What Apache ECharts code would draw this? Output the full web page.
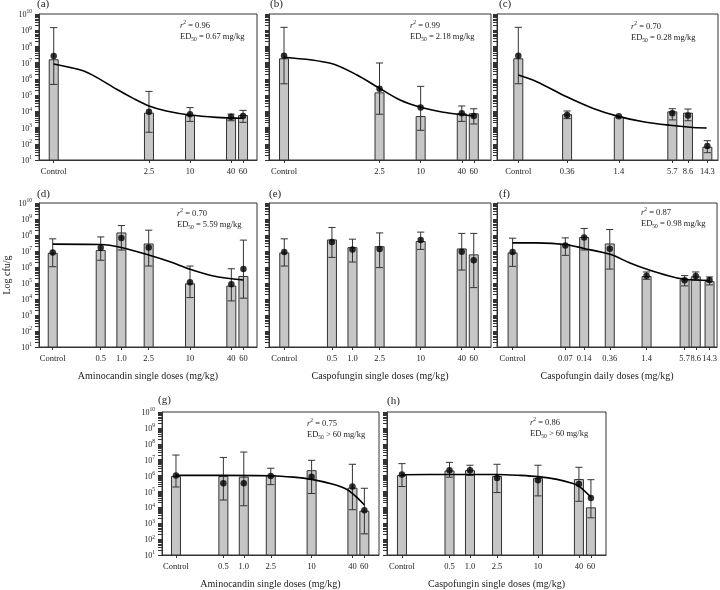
<!DOCTYPE html>
<html><head><meta charset="utf-8">
<script src="https://cdn.jsdelivr.net/npm/echarts@6/dist/echarts.min.js"></script>
<style>html,body{margin:0;padding:0;background:#fff}#c{width:720px;height:590px}</style>
</head><body><div id="c"></div>
<script>
// ===== DATA (y values are log10 cfu/g) =====
const dosesA = ['Control','2.5','10','40','60'];
const barsA  = [7.21, 3.92, 3.77, 3.57, 3.77];
const meansA = [7.41, 3.98, 3.82, 3.67, 3.71];
const errLoA = [5.66, 2.71, 3.38, 3.42, 3.32];
const errHiA = [9.16, 5.23, 4.23, 3.83, 4.06];
const curveAx = [0.1, 0.27, 0.48, 0.84, 1.47, 2.5, 4.5, 10, 24.5, 60];
const curveAy = [6.92, 6.50, 5.97, 5.36, 4.80, 4.33, 4.02, 3.77, 3.63, 3.57];

const dosesB = ['Control','2.5','10','40','60'];
const barsB  = [7.27, 5.17, 3.71, 3.88, 3.88];
const meansB = [7.43, 5.39, 4.23, 3.88, 3.71];
const errLoB = [5.70, 3.82, 2.83, 3.38, 3.22];
const errHiB = [9.18, 6.98, 5.54, 4.33, 4.16];
const curveBx = [0.1, 0.48, 1.17, 2.57, 5.0, 10, 21.4, 40, 60];
const curveBy = [7.33, 6.96, 6.24, 5.39, 4.70, 4.25, 3.94, 3.80, 3.71];

const dosesC = ['Control','0.36','1.4','5.7','8.6','14.3'];
const barsC  = [7.27, 3.82, 3.67, 4.00, 3.92, 1.82];
const meansC = [7.43, 3.77, 3.69, 3.88, 3.75, 1.86];
const errLoC = [5.70, 3.55, null, 3.47, 3.42, 1.45];
const errHiC = [9.18, 4.02, null, 4.16, 4.14, 2.19];
const curveCx = [0.1, 0.162, 0.356, 0.716, 1.38, 2.66, 5.37, 9.08, 14.06];
const curveCy = [6.24, 5.83, 4.90, 4.18, 3.69, 3.36, 3.14, 3.02, 2.97];

const dosesD = ['Control','0.5','1.0','2.5','10','40','60'];
const barsD  = [6.89, 7.06, 8.16, 7.47, 4.98, 4.84, 5.44];
const meansD = [6.91, 7.20, 7.82, 7.22, 5.05, 4.92, 5.87];
const errLoD = [6.02, 6.42, 7.06, 6.06, 4.09, 3.88, 4.05];
const errHiD = [7.76, 7.88, 8.59, 8.30, 6.06, 5.89, 7.68];
const curveDx = [0.1, 0.5, 1, 2.5, 5.1, 10, 21.9, 60];
const curveDy = [7.43, 7.41, 7.22, 6.75, 6.33, 5.86, 5.44, 5.19];

const dosesE = ['Control','0.5','1.0','2.5','10','40','60'];
const barsE  = [6.91, 7.72, 7.24, 7.30, 7.62, 7.16, 6.79];
const meansE = [6.93, 7.57, 7.10, 7.12, 7.68, 6.95, 6.42];
const errLoE = [6.06, 6.60, 6.31, 5.96, 7.10, 5.81, 4.71];
const errHiE = [7.76, 8.47, 7.74, 8.13, 8.18, 8.10, 8.10];

const dosesF = ['Control','0.07','0.14','0.36','1.4','5.7','8.6','14.3'];
const barsF  = [6.91, 7.43, 7.88, 7.47, 5.44, 5.23, 5.42, 5.11];
const meansF = [6.93, 7.35, 7.85, 7.14, 5.46, 5.17, 5.44, 5.19];
const errLoF = [6.04, 6.73, 7.06, 5.87, 5.23, 4.82, 5.19, 4.88];
const errHiF = [7.80, 7.82, 8.41, 8.34, 5.69, 5.46, 5.69, 5.38];
const curveFx = [0.01, 0.024, 0.071, 0.139, 0.366, 0.743, 1.42, 3.23, 5.96, 14.4];
const curveFy = [7.51, 7.51, 7.41, 7.16, 6.79, 6.27, 5.86, 5.44, 5.23, 5.15];

const dosesG = ['Control','0.5','1.0','2.5','10','40','60'];
const barsG  = [5.97, 5.97, 5.93, 6.03, 6.34, 5.24, 3.79];
const meansG = [6.01, 5.51, 5.51, 5.97, 5.93, 5.31, 3.82];
const errLoG = [5.28, 4.46, 4.10, 5.43, 4.87, 3.85, 2.33];
const errHiG = [7.29, 7.14, 7.48, 6.46, 6.96, 6.71, 5.20];
const curveGx = [0.1, 0.49, 2.5, 5.4, 10, 20.8, 32.7, 45.7, 60];
const curveGy = [6.01, 6.01, 5.99, 5.90, 5.76, 5.45, 5.14, 4.66, 4.15];

const dosesH = ['Control','0.5','1.0','2.5','10','40','60'];
const barsH  = [6.03, 6.32, 6.34, 5.97, 5.84, 5.78, 4.00];
const meansH = [6.07, 6.34, 6.34, 5.84, 5.70, 5.47, 4.58];
const errLoH = [5.31, 5.90, 6.01, 4.93, 4.72, 4.38, 3.34];
const errHiH = [6.75, 6.83, 6.65, 6.71, 6.65, 6.52, 5.74];
const curveHx = [0.1, 0.5, 2.5, 5.5, 10, 19.1, 29.9, 39.8, 60];
const curveHy = [6.05, 6.07, 6.07, 6.01, 5.93, 5.76, 5.55, 5.34, 4.64];

const yTickExponents = [1,2,3,4,5,6,7,8,9,10];
const panelTags = ['(a)','(b)','(c)','(d)','(e)','(f)','(g)','(h)'];
const r2Values  = ['0.96','0.99','0.70','0.70', null,'0.87','0.75','0.86'];
const ed50Texts = ['= 0.67 mg/kg','= 2.18 mg/kg','= 0.28 mg/kg','= 5.59 mg/kg', null,'= 0.98 mg/kg','> 60 mg/kg','> 60 mg/kg'];
const xTitles   = ['','','','Aminocandin single doses (mg/kg)','Caspofungin single doses (mg/kg)','Caspofungin daily doses (mg/kg)','Aminocandin single doses (mg/kg)','Caspofungin single doses (mg/kg)'];
const yTitle = 'Log cfu/g';

// ===== LAYOUT / STYLE =====
const FONT = 'Liberation Serif';
const INK = '#222';
const layout = [
  {left:39,  top:14,  width:218, height:146, xmin:-1.216, xmax:1.983, ctrl:0.1,  yLab:true,  tag:[37,-1],  txt:[180,20]},
  {left:269, top:14,  width:222, height:146, xmin:-1.22,  xmax:2.03,  ctrl:0.1,  yLab:false, tag:[270,-1], txt:[410,20]},
  {left:497, top:14,  width:221, height:146, xmin:-1.243, xmax:1.277, ctrl:0.1,  yLab:false, tag:[499,-1], txt:[631,21]},
  {left:39,  top:203, width:218, height:144, xmin:-1.2,   xmax:1.976, ctrl:0.1,  yLab:true,  tag:[37,189], txt:[177,208], yName:true},
  {left:269, top:203, width:222, height:144, xmin:-1.224, xmax:2.031, ctrl:0.1,  yLab:false, tag:[269,189], txt:null},
  {left:497, top:203, width:221, height:144, xmin:-2.25,  xmax:1.275, ctrl:0.01, yLab:false, tag:[499,189], txt:[641,207]},
  {left:162, top:412, width:217, height:145, xmin:-1.206, xmax:1.994, ctrl:0.1,  yLab:true,  tag:[158,395], txt:[307,418]},
  {left:387, top:412, width:219, height:144, xmin:-1.22,  xmax:2.0,   ctrl:0.1,  yLab:false, tag:[387,396], txt:[530,417]}
];

const panels = [
  {doses:dosesA, bars:barsA, means:meansA, lo:errLoA, hi:errHiA, cx:curveAx, cy:curveAy},
  {doses:dosesB, bars:barsB, means:meansB, lo:errLoB, hi:errHiB, cx:curveBx, cy:curveBy},
  {doses:dosesC, bars:barsC, means:meansC, lo:errLoC, hi:errHiC, cx:curveCx, cy:curveCy},
  {doses:dosesD, bars:barsD, means:meansD, lo:errLoD, hi:errHiD, cx:curveDx, cy:curveDy},
  {doses:dosesE, bars:barsE, means:meansE, lo:errLoE, hi:errHiE, cx:null, cy:null},
  {doses:dosesF, bars:barsF, means:meansF, lo:errLoF, hi:errHiF, cx:curveFx, cy:curveFy},
  {doses:dosesG, bars:barsG, means:meansG, lo:errLoG, hi:errHiG, cx:curveGx, cy:curveGy},
  {doses:dosesH, bars:barsH, means:meansH, lo:errLoH, hi:errHiH, cx:curveHx, cy:curveHy}
];

// y tick positions: every decade plus log-spaced 2..9 within each decade
const yTickPos = [];
yTickExponents.forEach((e, n) => {
  yTickPos.push(e);
  if (n < yTickExponents.length - 1) for (let k = 2; k <= 9; k++) yTickPos.push(e + Math.log10(k));
});

const grids = [], xAxes = [], yAxes = [], series = [], graphics = [];
const richBase = {fontSize: 8.5, fontFamily: FONT, color: INK, verticalAlign: 'bottom'};

panels.forEach((p, i) => {
  const L = layout[i];
  grids.push({left:L.left, top:L.top, width:L.width, height:L.height, show:true,
    borderColor:'#333', borderWidth:1, backgroundColor:'rgba(0,0,0,0)', containLabel:false});
  const xpos = p.doses.map(d => d === 'Control' ? Math.log10(L.ctrl) : Math.log10(parseFloat(d)));
  xAxes.push({
    type:'value', gridIndex:i, min:L.xmin, max:L.xmax,
    axisLine:{show:true, onZero:false, lineStyle:{color:'#333', width:1}},
    axisTick:{show:true, customValues:xpos, length:3, lineStyle:{color:'#333', width:1}},
    axisLabel:{show:true, customValues:xpos, margin:7, fontSize:8.5, fontFamily:FONT, color:INK,
      formatter: v => { const j = xpos.findIndex(q => Math.abs(q - v) < 1e-6); return j >= 0 ? p.doses[j] : ''; }},
    splitLine:{show:false},
    name: xTitles[i], nameLocation:'middle', nameGap:24,
    nameTextStyle:{fontSize:10, fontFamily:FONT, color:INK}
  });
  yAxes.push({
    type:'value', gridIndex:i, position:'left', min:1, max:10, interval:1,
    axisLine:{show:true, onZero:false, lineStyle:{color:'#333', width:1}},
    axisTick:{show:true, customValues:yTickPos, length:4, lineStyle:{color:'#333', width:1}},
    axisLabel:{show:L.yLab, margin:7, customValues:yTickExponents, formatter: v => '{b|10}{s|' + v + '}',
      rich:{b:{fontSize:8, fontFamily:FONT, color:INK, verticalAlign:'bottom'},
            s:{fontSize:5.5, fontFamily:FONT, color:INK, verticalAlign:'bottom', padding:[0,0,4,0]}}},
    splitLine:{show:false},
    name: L.yName ? yTitle : '', nameLocation:'middle', nameGap:27, nameRotate:90,
    nameTextStyle:{fontSize:10, fontFamily:FONT, color:INK}
  });
  series.push({
    type:'bar', xAxisIndex:i, yAxisIndex:i, barWidth:10, clip:true, z:2,
    data: xpos.map((x, j) => [x, p.bars[j]]),
    itemStyle:{color:'#c6c6c6', borderColor:'#333', borderWidth:1}
  });
  const errData = [];
  xpos.forEach((x, j) => { if (p.lo[j] != null) errData.push([x, p.lo[j], p.hi[j]]); });
  series.push({
    type:'custom', xAxisIndex:i, yAxisIndex:i, z:3, encode:{x:0, y:[1,2]}, data: errData,
    renderItem: (params, api) => {
      const x = api.value(0);
      const a = api.coord([x, api.value(1)]), b = api.coord([x, api.value(2)]);
      const w = 3.6, st = {stroke:'#333', lineWidth:1};
      return {type:'group', children:[
        {type:'line', shape:{x1:a[0], y1:a[1], x2:b[0], y2:b[1]}, style:st},
        {type:'line', shape:{x1:b[0]-w, y1:b[1], x2:b[0]+w, y2:b[1]}, style:st},
        {type:'line', shape:{x1:a[0]-w, y1:a[1], x2:a[0]+w, y2:a[1]}, style:st}
      ]};
    }
  });
  if (p.cx) {
    series.push({
      type:'line', xAxisIndex:i, yAxisIndex:i, z:4, smooth:0.3,
      showSymbol:false, symbol:'none', clip:true,
      data: p.cx.map((d, j) => [Math.log10(d), p.cy[j]]),
      lineStyle:{color:'#000', width:1.6}
    });
  }
  series.push({
    type:'scatter', xAxisIndex:i, yAxisIndex:i, z:5, symbol:'circle', symbolSize:6.5,
    data: xpos.map((x, j) => [x, p.means[j]]), itemStyle:{color:'#000'}
  });
  graphics.push({type:'text', x:L.tag[0], y:L.tag[1],
    style:{text:panelTags[i], fontSize:11, fontFamily:FONT, fill:INK}});
  if (L.txt && r2Values[i]) {
    graphics.push({type:'text', x:L.txt[0], y:L.txt[1], style:{
      text:'{i|r}{s|2}{b| = ' + r2Values[i] + '}', fill:INK,
      rich:{i:Object.assign({}, richBase, {fontStyle:'italic'}), b:richBase,
            s:{fontSize:5.5, fontFamily:FONT, color:INK, verticalAlign:'bottom', padding:[0,0,4,0]}}}});
    graphics.push({type:'text', x:L.txt[0], y:L.txt[1] + 12, style:{
      text:'{b|ED}{u|50}{b| ' + ed50Texts[i] + '}', fill:INK,
      rich:{b:Object.assign({}, richBase, {verticalAlign:'top'}),
            u:{fontSize:5.5, fontFamily:FONT, color:INK, verticalAlign:'top', padding:[4.5,0,0,0]}}}});
  }
});

const chart = echarts.init(document.getElementById('c'), null, {renderer:'canvas'});
chart.setOption({
  animation:false, backgroundColor:'#fff',
  grid:grids, xAxis:xAxes, yAxis:yAxes, series:series, graphic:graphics
});
</script>
</body></html>
